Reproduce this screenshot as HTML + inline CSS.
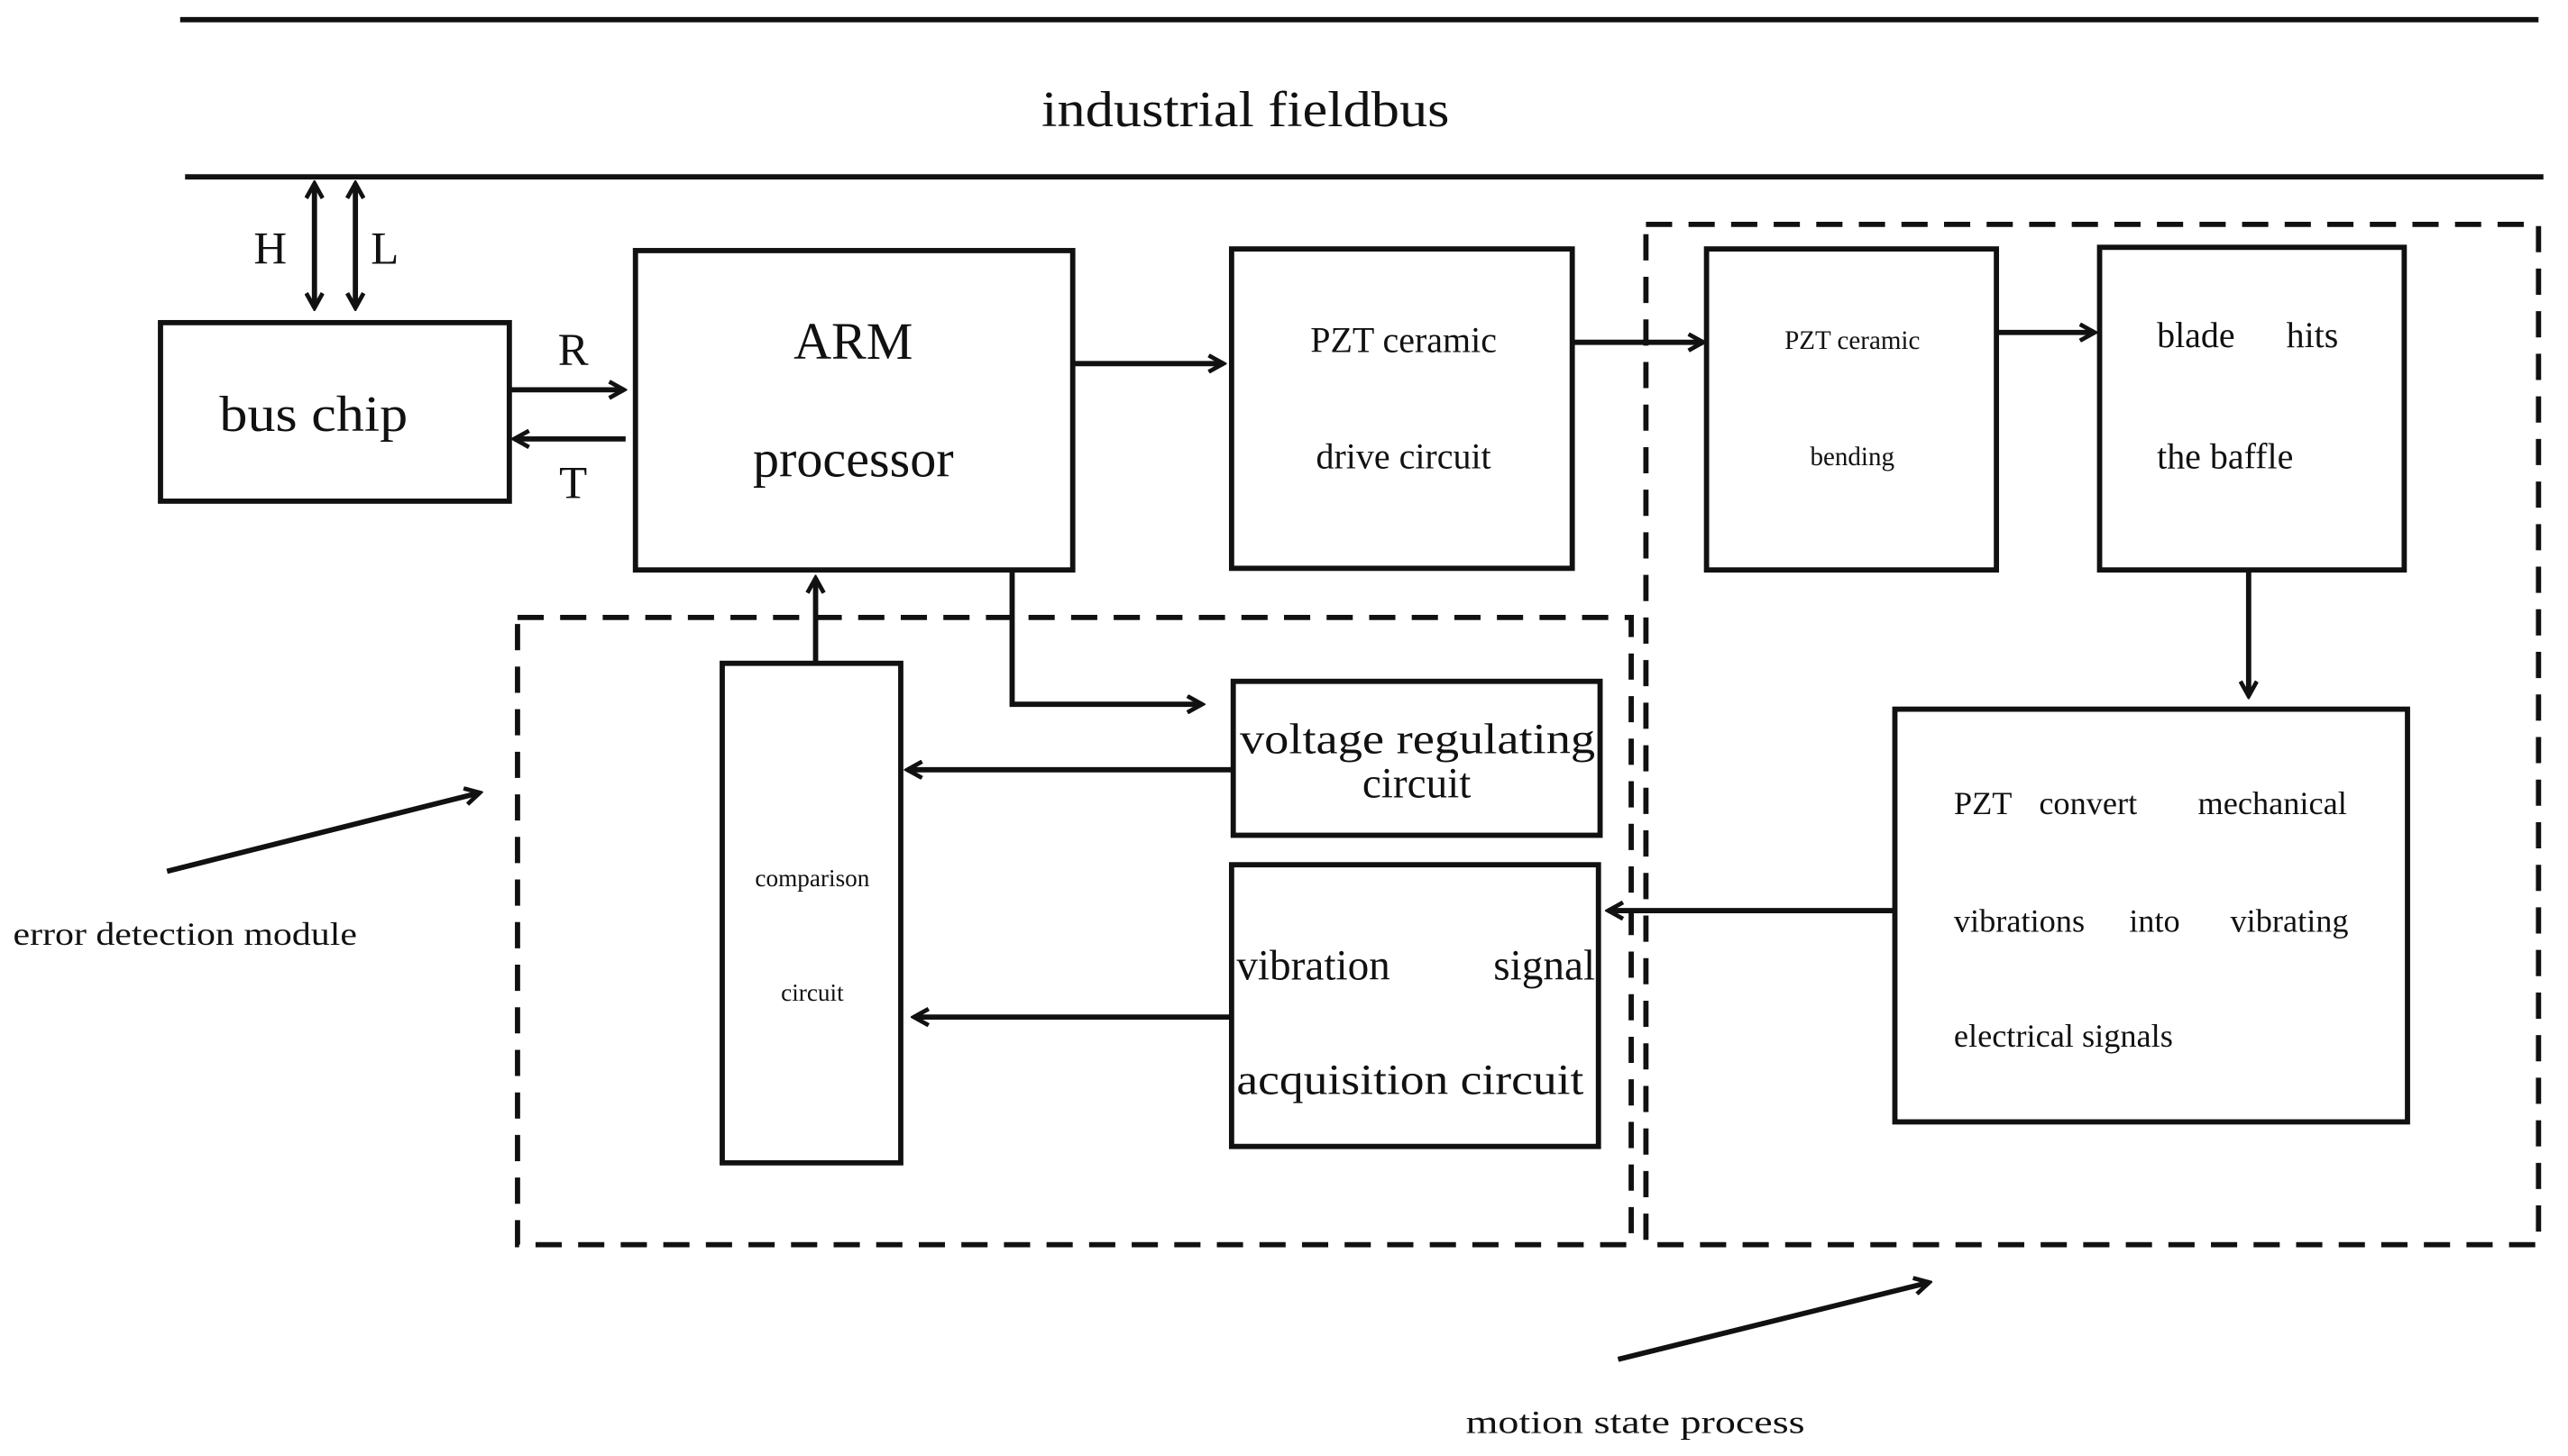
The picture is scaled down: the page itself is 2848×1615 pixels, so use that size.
<!DOCTYPE html>
<html><head><meta charset="utf-8"><style>
html,body{margin:0;padding:0;background:#fff;}
svg{display:block;}
text{font-family:"Liberation Serif",serif;fill:#111;}
</style></head><body>
<svg width="2848" height="1615" viewBox="0 0 1568 889" preserveAspectRatio="none" xmlns="http://www.w3.org/2000/svg">
<defs>
<marker id="a" viewBox="0 0 12 12" refX="10" refY="6" markerWidth="12" markerHeight="12" markerUnits="userSpaceOnUse" orient="auto-start-reverse">
<path d="M1,1 L10,6 L1,11" fill="none" stroke="#111" stroke-width="2.6"/>
</marker>
</defs>
<g stroke="#111" fill="none" stroke-width="3.2">
<line x1="110" y1="12" x2="1550" y2="12"/>
<line x1="113" y1="108" x2="1553" y2="108"/>
<line x1="192" y1="112" x2="192" y2="188" marker-start="url(#a)" marker-end="url(#a)"/>
<line x1="217" y1="112" x2="217" y2="188" marker-start="url(#a)" marker-end="url(#a)"/>
<rect x="98" y="197" width="213" height="109"/>
<line x1="311" y1="238" x2="381" y2="238" marker-end="url(#a)"/>
<line x1="382" y1="268" x2="314" y2="268" marker-end="url(#a)"/>
<rect x="388" y="153" width="267" height="195"/>
<line x1="655" y1="222" x2="747" y2="222" marker-end="url(#a)"/>
<rect x="752" y="152" width="208" height="195"/>
<line x1="960" y1="209" x2="1040" y2="209" marker-end="url(#a)"/>
<rect x="1042" y="152" width="177" height="196"/>
<line x1="1219" y1="203" x2="1279" y2="203" marker-end="url(#a)"/>
<rect x="1282" y="151" width="186" height="197"/>
<line x1="1373" y1="348" x2="1373" y2="425" marker-end="url(#a)"/>
<rect x="1157" y="433" width="313" height="252"/>
<line x1="1157" y1="556" x2="982" y2="556" marker-end="url(#a)"/>
<rect x="441" y="405" width="109" height="305"/>
<line x1="498" y1="405" x2="498" y2="353" marker-end="url(#a)"/>
<polyline points="618,348 618,430 734,430" marker-end="url(#a)"/>
<rect x="753" y="416" width="224" height="94"/>
<line x1="753" y1="470" x2="554" y2="470" marker-end="url(#a)"/>
<rect x="752" y="528" width="224" height="172"/>
<line x1="752" y1="621" x2="558" y2="621" marker-end="url(#a)"/>
<line x1="102" y1="532" x2="293" y2="484" marker-end="url(#a)"/>
<line x1="988" y1="830" x2="1178" y2="783" marker-end="url(#a)"/>
</g>
<g stroke="#111" fill="none" stroke-width="3.2" stroke-dasharray="16,10">
<rect x="1005" y="137" width="545" height="623"/>
<rect x="316" y="377" width="680" height="383"/>
</g>
<text x="636" y="77" font-size="31" textLength="249" lengthAdjust="spacingAndGlyphs">industrial fieldbus</text>
<text x="165" y="161" font-size="28" text-anchor="middle">H</text>
<text x="235" y="161" font-size="28" text-anchor="middle">L</text>
<text x="134" y="263" font-size="31" textLength="115" lengthAdjust="spacingAndGlyphs">bus chip</text>
<text x="350" y="223" font-size="28" text-anchor="middle">R</text>
<text x="350" y="304" font-size="28" text-anchor="middle">T</text>
<text x="521" y="219" font-size="32" text-anchor="middle">ARM</text>
<text x="521" y="291" font-size="32" text-anchor="middle">processor</text>
<text x="857" y="215" font-size="22" text-anchor="middle">PZT ceramic</text>
<text x="857" y="286" font-size="22" text-anchor="middle">drive circuit</text>
<text x="1131" y="213" font-size="16" text-anchor="middle">PZT ceramic</text>
<text x="1131" y="284" font-size="16" text-anchor="middle">bending</text>
<text x="1317" y="212" font-size="22">blade</text>
<text x="1396" y="212" font-size="22">hits</text>
<text x="1317" y="286" font-size="22">the baffle</text>
<text x="1193" y="497" font-size="20">PZT</text>
<text x="1245" y="497" font-size="20">convert</text>
<text x="1433" y="497" font-size="20" text-anchor="end">mechanical</text>
<text x="1193" y="569" font-size="20">vibrations</text>
<text x="1300" y="569" font-size="20">into</text>
<text x="1434" y="569" font-size="20" text-anchor="end">vibrating</text>
<text x="1193" y="639" font-size="20">electrical signals</text>
<text x="496" y="541" font-size="15" text-anchor="middle">comparison</text>
<text x="496" y="611" font-size="15" text-anchor="middle">circuit</text>
<text x="757" y="460" font-size="26" textLength="217" lengthAdjust="spacingAndGlyphs">voltage regulating</text>
<text x="865" y="487" font-size="26" text-anchor="middle">circuit</text>
<text x="755" y="598" font-size="26">vibration</text>
<text x="974" y="598" font-size="26" text-anchor="end">signal</text>
<text x="755" y="668" font-size="26" textLength="212" lengthAdjust="spacingAndGlyphs">acquisition circuit</text>
<text x="8" y="577" font-size="20" textLength="210" lengthAdjust="spacingAndGlyphs">error detection module</text>
<text x="895" y="875" font-size="20" textLength="207" lengthAdjust="spacingAndGlyphs">motion state process</text>
</svg>
</body></html>
